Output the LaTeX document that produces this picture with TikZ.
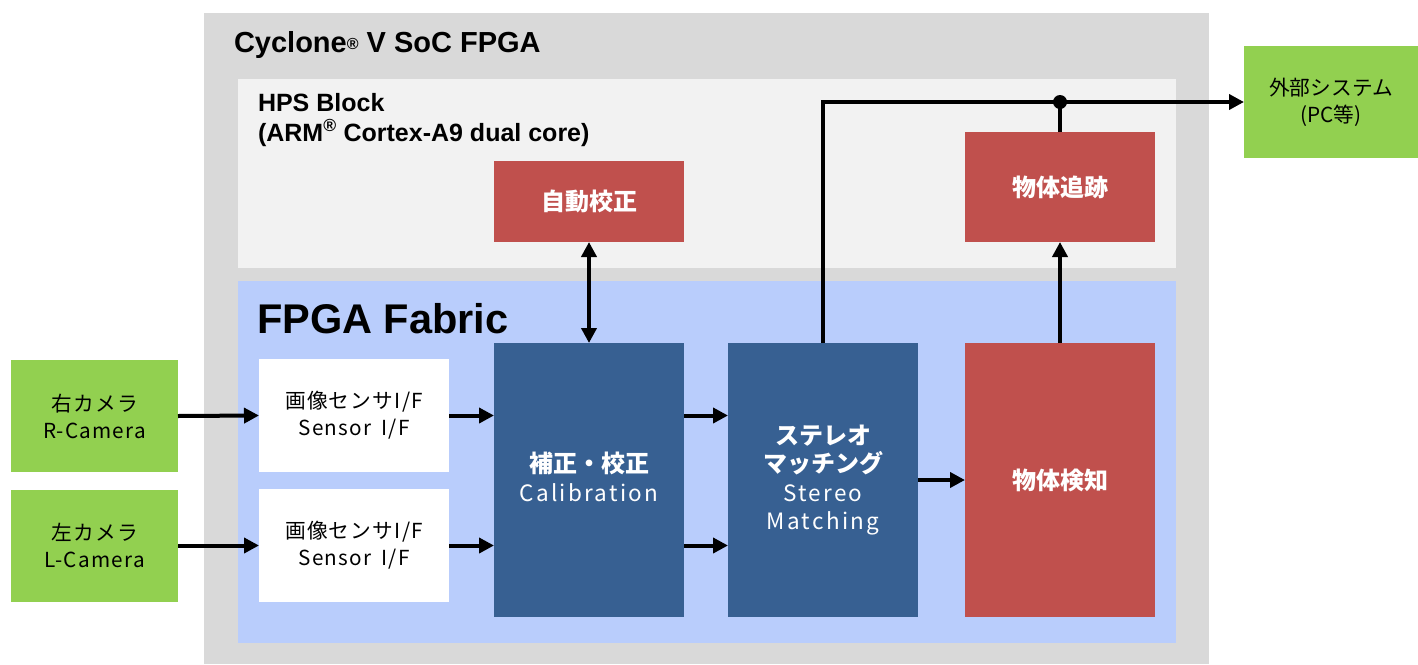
\documentclass[tikz,border=0pt]{standalone}
\usepackage{fontspec}
\setmainfont{Liberation Sans}
\newfontfamily\jp{Noto Sans CJK JP}
\newfontfamily\jpsp[LetterSpace=6]{Noto Sans CJK JP}
\newfontfamily\jpwide[LetterSpace=10]{Noto Sans CJK JP}
\usetikzlibrary{arrows.meta}
\definecolor{outergray}{HTML}{D9D9D9}
\definecolor{hpsgray}{HTML}{F2F2F2}
\definecolor{fabblue}{HTML}{B9CDFC}
\definecolor{darkblue}{HTML}{376092}
\definecolor{boxred}{HTML}{C0504D}
\definecolor{boxgreen}{HTML}{92D050}
\newcommand\jpb{\jp\bfseries\fontsize{24}{28}\selectfont}
\newcommand\lat{\jpwide\fontsize{22.5}{28}\selectfont}
\begin{document}
\begin{tikzpicture}[x=1pt,y=-1pt,
  blk/.style={inner sep=0pt,outer sep=0pt,align=center,draw=none},
  cam/.style={blk,fill=boxgreen,minimum width=167pt,minimum height=112pt,text=black,font=\jpsp\fontsize{20.7}{27}\selectfont},
  sens/.style={blk,fill=white,minimum width=190pt,minimum height=113pt,text=black,font=\jpsp\fontsize{20.7}{27}\selectfont},
  tall/.style={blk,minimum width=190pt,minimum height=274pt,text=white,font=\jp\fontsize{22}{28.5}\selectfont},
  hps/.style={blk,fill=boxred,minimum width=190pt,text=white,font=\jpb},
  conn/.style={line width=4pt,-{Triangle[length=15pt,width=15pt]}},
  conn2/.style={line width=4pt,{Triangle[length=15pt,width=15pt]}-{Triangle[length=15pt,width=15pt]}},
  wire/.style={line width=4pt}
]
\useasboundingbox (0,0) rectangle (1418,664);
% containers
\fill[outergray] (204,13) rectangle (1209,664);
\fill[hpsgray] (238,79) rectangle (1176,268);
\fill[fabblue] (238,281) rectangle (1176,643);
\node[blk,anchor=base west,font=\bfseries\fontsize{29}{30}\selectfont] (soc) at (234,52) {Cyclone\raisebox{0.1em}{\fontsize{16}{16}\selectfont\textregistered} V SoC FPGA};
\node[blk,anchor=base west,align=left,font=\bfseries\fontsize{25}{30}\selectfont] (hpsl) at (258,141) {HPS Block\\(ARM\textsuperscript{\textregistered} Cortex-A9 dual core)};
\node[blk,anchor=base west,font=\bfseries\fontsize{41.5}{42}\selectfont] (fab) at (257,333) {FPGA Fabric};
% cameras
\node[cam] (rcam) at (94.5,416) {右カメラ\\R-Camera};
\node[cam] (lcam) at (94.5,545.5) {左カメラ\\L-Camera};
% sensors
\node[sens] (rs) at (354,415.5) {画像センサI/F\\Sensor \hspace{4pt}I/F};
\node[sens] (ls) at (354,545.5) {画像センサI/F\\Sensor \hspace{4pt}I/F};
% main blocks
\node[tall,fill=darkblue] (cal) at (589,480) {};
\node[blk,text=white,font=\jp\fontsize{22}{28.5}\selectfont] (calt) at ([yshift=3pt]cal.center) {\jpb 補正・校正\\\lat Calibration};
\node[tall,fill=darkblue] (st) at (823,480) {\jpb ステレオ\\\jpb マッチング\\\lat Stereo\\\lat Matching};
\node[tall,fill=boxred,font=\jpb] (det) at (1060,480) {物体検知};
% HPS blocks
\node[hps,minimum height=81pt] (auto) at (589,201.5) {自動校正};
\node[hps,minimum height=110pt] (trk) at (1060,187) {物体追跡};
% external
\node[blk,fill=boxgreen,minimum width=174pt,minimum height=112pt,text=black,font=\jp\fontsize{20.7}{27}\selectfont] (ext) at (1331,102) {外部システム\\(PC等)};
% connectors
\draw[conn] (rcam.east) -- (rs.west);
\draw[conn] (lcam.east) -- (ls.west);
\draw[conn] (rs.east) -- (rs.east -| cal.west);
\draw[conn] (ls.east) -- (ls.east -| cal.west);
\draw[conn] (cal.east |- rs.east) -- (st.west |- rs.east);
\draw[conn] (cal.east |- ls.east) -- (st.west |- ls.east);
\draw[conn] (st.east) -- (det.west);
\draw[conn] (det.north) -- (trk.south);
\draw[conn2] (auto.south) -- (cal.north);
\coordinate (jn) at (1060,102);
\coordinate (corner) at (823,102);
\draw[wire] (trk.north) -- (jn);
\draw[conn] (st.north) -- (corner) -- (ext.west);
\fill (jn) circle (7pt);
\end{tikzpicture}
\end{document}
